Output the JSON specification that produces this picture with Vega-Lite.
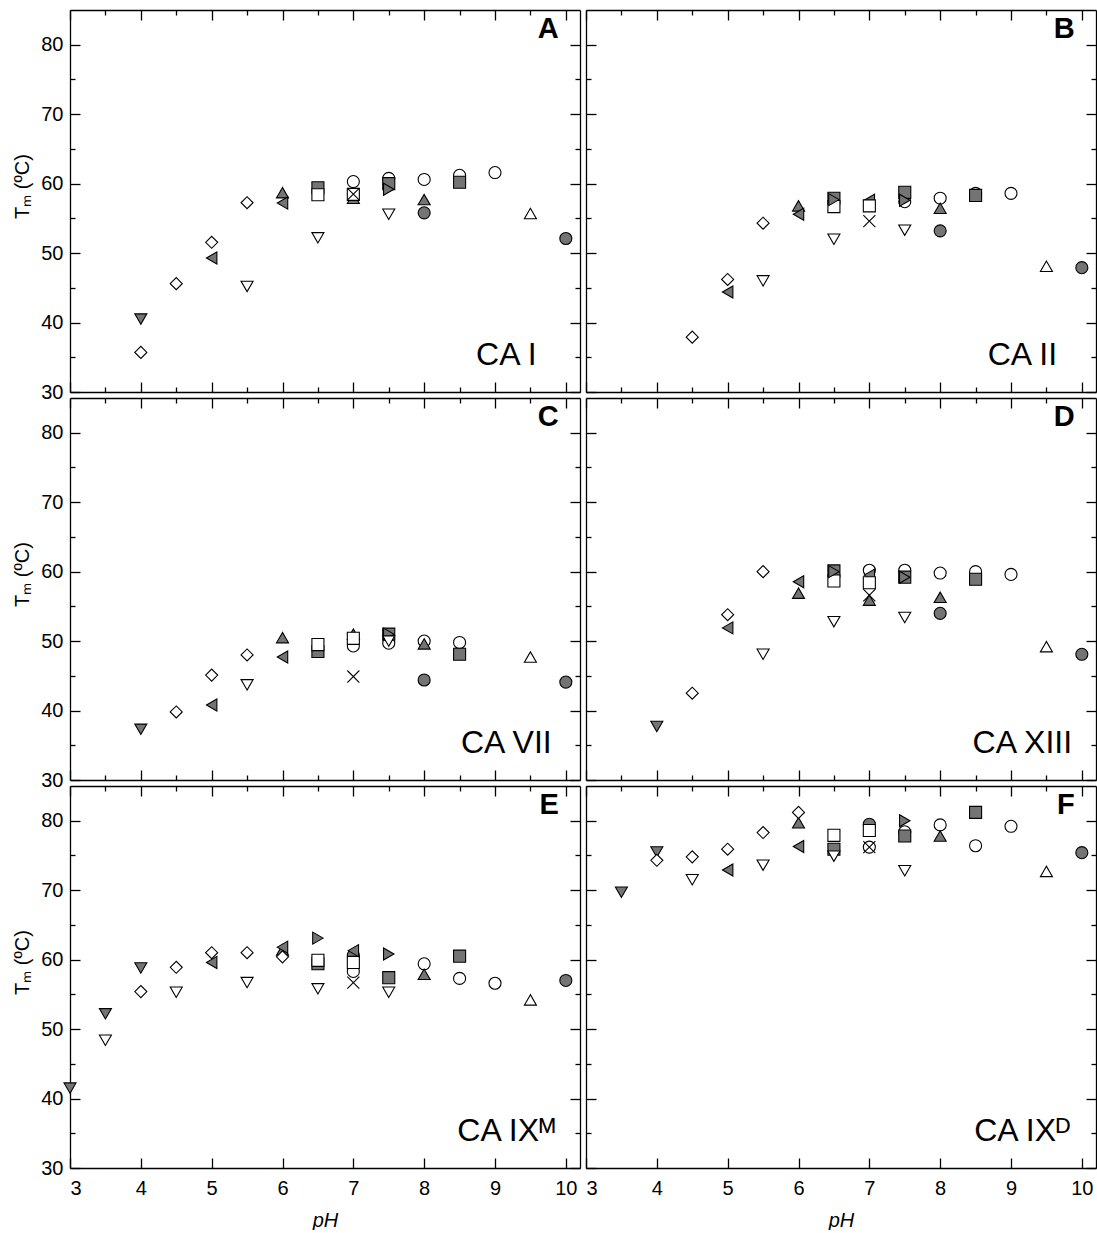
{
  "$schema": "https://vega.github.io/schema/vega-lite/v6.json",
  "background": "white",
  "padding": {"left": 12, "top": 9, "right": 0, "bottom": 0},
  "config": {
    "view": {"stroke": null},
    "font": "Liberation Sans",
    "axis": {
      "domainColor": "#000", "tickColor": "#000", "labelColor": "#000", "titleColor": "#000",
      "grid": false, "labelFont": "Liberation Sans", "titleFont": "Liberation Sans",
      "labelFontSize": 20, "titleFontSize": 20, "titleFontWeight": "normal",
      "domainWidth": 1.3, "tickWidth": 1.3
    }
  },
  "datasets": {
    "labels": [
      {"panel": "A", "letter": "A", "name": "CA I"},
      {"panel": "B", "letter": "B", "name": "CA II"},
      {"panel": "C", "letter": "C", "name": "CA VII"},
      {"panel": "D", "letter": "D", "name": "CA XIII"},
      {"panel": "E", "letter": "E", "name": "CA IXᴹ"},
      {"panel": "F", "letter": "F", "name": "CA IXᴰ"}
    ],
    "tm": [
      {"panel": "A", "series": "circle_open", "pH": 7, "Tm": 60.3},
      {"panel": "A", "series": "circle_open", "pH": 7.5, "Tm": 60.75},
      {"panel": "A", "series": "circle_open", "pH": 8, "Tm": 60.6},
      {"panel": "A", "series": "circle_open", "pH": 8.5, "Tm": 61.2},
      {"panel": "A", "series": "circle_open", "pH": 9, "Tm": 61.6},
      {"panel": "A", "series": "circle_gray", "pH": 8, "Tm": 55.8},
      {"panel": "A", "series": "circle_gray", "pH": 10, "Tm": 52.1},
      {"panel": "A", "series": "square_gray", "pH": 6.5, "Tm": 59.4},
      {"panel": "A", "series": "square_gray", "pH": 7.5, "Tm": 60.0},
      {"panel": "A", "series": "square_gray", "pH": 8.5, "Tm": 60.2},
      {"panel": "A", "series": "triup_gray", "pH": 7, "Tm": 57.9},
      {"panel": "A", "series": "square_open", "pH": 6.5, "Tm": 58.4},
      {"panel": "A", "series": "square_open", "pH": 7, "Tm": 58.45},
      {"panel": "A", "series": "triright_gray", "pH": 7.5, "Tm": 59.2},
      {"panel": "A", "series": "triup_gray", "pH": 6, "Tm": 58.7},
      {"panel": "A", "series": "triup_gray", "pH": 8, "Tm": 57.7},
      {"panel": "A", "series": "trileft_gray", "pH": 5, "Tm": 49.3},
      {"panel": "A", "series": "trileft_gray", "pH": 6, "Tm": 57.2},
      {"panel": "A", "series": "tridown_open", "pH": 5.5, "Tm": 45.2},
      {"panel": "A", "series": "tridown_open", "pH": 6.5, "Tm": 52.2},
      {"panel": "A", "series": "tridown_open", "pH": 7.5, "Tm": 55.6},
      {"panel": "A", "series": "tridown_gray", "pH": 4, "Tm": 40.5},
      {"panel": "A", "series": "diamond_open", "pH": 4, "Tm": 35.7},
      {"panel": "A", "series": "diamond_open", "pH": 4.5, "Tm": 45.6},
      {"panel": "A", "series": "diamond_open", "pH": 5, "Tm": 51.55},
      {"panel": "A", "series": "diamond_open", "pH": 5.5, "Tm": 57.25},
      {"panel": "A", "series": "triup_open", "pH": 9.5, "Tm": 55.7},
      {"panel": "A", "series": "cross", "pH": 7, "Tm": 58.5},

      {"panel": "B", "series": "circle_open", "pH": 7.5, "Tm": 57.4},
      {"panel": "B", "series": "circle_open", "pH": 8, "Tm": 57.9},
      {"panel": "B", "series": "circle_open", "pH": 8.5, "Tm": 58.6},
      {"panel": "B", "series": "circle_open", "pH": 9, "Tm": 58.6},
      {"panel": "B", "series": "circle_gray", "pH": 8, "Tm": 53.2},
      {"panel": "B", "series": "circle_gray", "pH": 10, "Tm": 47.9},
      {"panel": "B", "series": "square_gray", "pH": 6.5, "Tm": 57.9},
      {"panel": "B", "series": "square_gray", "pH": 7.5, "Tm": 58.75},
      {"panel": "B", "series": "square_gray", "pH": 8.5, "Tm": 58.3},
      {"panel": "B", "series": "trileft_gray", "pH": 7, "Tm": 57.6},
      {"panel": "B", "series": "square_open", "pH": 6.5, "Tm": 56.7},
      {"panel": "B", "series": "square_open", "pH": 7, "Tm": 56.8},
      {"panel": "B", "series": "triright_gray", "pH": 6.5, "Tm": 57.7},
      {"panel": "B", "series": "triright_gray", "pH": 7.5, "Tm": 57.6},
      {"panel": "B", "series": "triup_gray", "pH": 6, "Tm": 56.8},
      {"panel": "B", "series": "triup_gray", "pH": 8, "Tm": 56.45},
      {"panel": "B", "series": "trileft_gray", "pH": 5, "Tm": 44.4},
      {"panel": "B", "series": "trileft_gray", "pH": 6, "Tm": 55.6},
      {"panel": "B", "series": "tridown_open", "pH": 5.5, "Tm": 46.0},
      {"panel": "B", "series": "tridown_open", "pH": 6.5, "Tm": 52.0},
      {"panel": "B", "series": "tridown_open", "pH": 7.5, "Tm": 53.3},
      {"panel": "B", "series": "diamond_open", "pH": 4.5, "Tm": 37.9},
      {"panel": "B", "series": "diamond_open", "pH": 5, "Tm": 46.2},
      {"panel": "B", "series": "diamond_open", "pH": 5.5, "Tm": 54.3},
      {"panel": "B", "series": "triup_open", "pH": 9.5, "Tm": 48.1},
      {"panel": "B", "series": "cross", "pH": 7, "Tm": 54.6},

      {"panel": "C", "series": "circle_open", "pH": 7, "Tm": 49.3},
      {"panel": "C", "series": "circle_open", "pH": 7.5, "Tm": 49.7},
      {"panel": "C", "series": "circle_open", "pH": 8, "Tm": 50.0},
      {"panel": "C", "series": "circle_open", "pH": 8.5, "Tm": 49.8},
      {"panel": "C", "series": "circle_gray", "pH": 8, "Tm": 44.4},
      {"panel": "C", "series": "circle_gray", "pH": 10, "Tm": 44.1},
      {"panel": "C", "series": "triup_gray", "pH": 7, "Tm": 51.0},
      {"panel": "C", "series": "square_gray", "pH": 6.5, "Tm": 48.5},
      {"panel": "C", "series": "square_gray", "pH": 7.5, "Tm": 51.0},
      {"panel": "C", "series": "square_gray", "pH": 8.5, "Tm": 48.1},
      {"panel": "C", "series": "square_open", "pH": 6.5, "Tm": 49.5},
      {"panel": "C", "series": "square_open", "pH": 7, "Tm": 50.4},
      {"panel": "C", "series": "triright_gray", "pH": 7.5, "Tm": 51.0},
      {"panel": "C", "series": "triup_gray", "pH": 6, "Tm": 50.5},
      {"panel": "C", "series": "triup_gray", "pH": 8, "Tm": 49.6},
      {"panel": "C", "series": "trileft_gray", "pH": 5, "Tm": 40.8},
      {"panel": "C", "series": "trileft_gray", "pH": 6, "Tm": 47.7},
      {"panel": "C", "series": "tridown_open", "pH": 5.5, "Tm": 43.7},
      {"panel": "C", "series": "tridown_open", "pH": 7.5, "Tm": 50.0},
      {"panel": "C", "series": "tridown_gray", "pH": 4, "Tm": 37.3},
      {"panel": "C", "series": "diamond_open", "pH": 4.5, "Tm": 39.8},
      {"panel": "C", "series": "diamond_open", "pH": 5, "Tm": 45.1},
      {"panel": "C", "series": "diamond_open", "pH": 5.5, "Tm": 48.0},
      {"panel": "C", "series": "triup_open", "pH": 9.5, "Tm": 47.7},
      {"panel": "C", "series": "cross", "pH": 7, "Tm": 44.9},

      {"panel": "D", "series": "circle_open", "pH": 7, "Tm": 60.2},
      {"panel": "D", "series": "circle_open", "pH": 7.5, "Tm": 60.2},
      {"panel": "D", "series": "circle_open", "pH": 8, "Tm": 59.8},
      {"panel": "D", "series": "circle_open", "pH": 8.5, "Tm": 60.0},
      {"panel": "D", "series": "circle_open", "pH": 9, "Tm": 59.6},
      {"panel": "D", "series": "circle_gray", "pH": 8, "Tm": 54.0},
      {"panel": "D", "series": "circle_gray", "pH": 10, "Tm": 48.1},
      {"panel": "D", "series": "trileft_gray", "pH": 7, "Tm": 59.5},
      {"panel": "D", "series": "square_gray", "pH": 6.5, "Tm": 60.1},
      {"panel": "D", "series": "square_gray", "pH": 7.5, "Tm": 59.2},
      {"panel": "D", "series": "square_gray", "pH": 8.5, "Tm": 58.9},
      {"panel": "D", "series": "square_open", "pH": 6.5, "Tm": 58.65},
      {"panel": "D", "series": "square_open", "pH": 7, "Tm": 58.4},
      {"panel": "D", "series": "triright_gray", "pH": 6.5, "Tm": 60.0},
      {"panel": "D", "series": "triright_gray", "pH": 7.5, "Tm": 59.2},
      {"panel": "D", "series": "triup_gray", "pH": 6, "Tm": 56.9},
      {"panel": "D", "series": "triup_gray", "pH": 7, "Tm": 55.9},
      {"panel": "D", "series": "triup_gray", "pH": 8, "Tm": 56.3},
      {"panel": "D", "series": "trileft_gray", "pH": 5, "Tm": 51.9},
      {"panel": "D", "series": "trileft_gray", "pH": 6, "Tm": 58.55},
      {"panel": "D", "series": "tridown_open", "pH": 5.5, "Tm": 48.1},
      {"panel": "D", "series": "tridown_open", "pH": 6.5, "Tm": 52.8},
      {"panel": "D", "series": "tridown_open", "pH": 7.5, "Tm": 53.4},
      {"panel": "D", "series": "tridown_gray", "pH": 4, "Tm": 37.7},
      {"panel": "D", "series": "diamond_open", "pH": 4.5, "Tm": 42.5},
      {"panel": "D", "series": "diamond_open", "pH": 5, "Tm": 53.8},
      {"panel": "D", "series": "diamond_open", "pH": 5.5, "Tm": 60.0},
      {"panel": "D", "series": "triup_open", "pH": 9.5, "Tm": 49.2},
      {"panel": "D", "series": "cross", "pH": 7, "Tm": 56.6},

      {"panel": "E", "series": "circle_open", "pH": 7, "Tm": 58.3},
      {"panel": "E", "series": "circle_open", "pH": 8, "Tm": 59.4},
      {"panel": "E", "series": "circle_open", "pH": 8.5, "Tm": 57.3},
      {"panel": "E", "series": "circle_open", "pH": 9, "Tm": 56.6},
      {"panel": "E", "series": "circle_gray", "pH": 7, "Tm": 60.6},
      {"panel": "E", "series": "circle_gray", "pH": 10, "Tm": 57.0},
      {"panel": "E", "series": "square_gray", "pH": 6.5, "Tm": 59.4},
      {"panel": "E", "series": "square_gray", "pH": 7.5, "Tm": 57.4},
      {"panel": "E", "series": "square_gray", "pH": 8.5, "Tm": 60.5},
      {"panel": "E", "series": "square_open", "pH": 6.5, "Tm": 59.9},
      {"panel": "E", "series": "square_open", "pH": 7, "Tm": 59.6},
      {"panel": "E", "series": "triright_gray", "pH": 6.5, "Tm": 63.1},
      {"panel": "E", "series": "triright_gray", "pH": 7.5, "Tm": 60.8},
      {"panel": "E", "series": "triup_gray", "pH": 6, "Tm": 61.4},
      {"panel": "E", "series": "triup_gray", "pH": 8, "Tm": 57.9},
      {"panel": "E", "series": "trileft_gray", "pH": 5, "Tm": 59.6},
      {"panel": "E", "series": "trileft_gray", "pH": 6, "Tm": 61.8},
      {"panel": "E", "series": "trileft_gray", "pH": 7, "Tm": 61.3},
      {"panel": "E", "series": "tridown_open", "pH": 3.5, "Tm": 48.4},
      {"panel": "E", "series": "tridown_open", "pH": 4.5, "Tm": 55.3},
      {"panel": "E", "series": "tridown_open", "pH": 5.5, "Tm": 56.7},
      {"panel": "E", "series": "tridown_open", "pH": 6.5, "Tm": 55.8},
      {"panel": "E", "series": "tridown_open", "pH": 7.5, "Tm": 55.3},
      {"panel": "E", "series": "tridown_gray", "pH": 3, "Tm": 41.5},
      {"panel": "E", "series": "tridown_gray", "pH": 3.5, "Tm": 52.2},
      {"panel": "E", "series": "tridown_gray", "pH": 4, "Tm": 58.8},
      {"panel": "E", "series": "diamond_open", "pH": 4, "Tm": 55.4},
      {"panel": "E", "series": "diamond_open", "pH": 4.5, "Tm": 58.9},
      {"panel": "E", "series": "diamond_open", "pH": 5, "Tm": 61.0},
      {"panel": "E", "series": "diamond_open", "pH": 5.5, "Tm": 61.0},
      {"panel": "E", "series": "diamond_open", "pH": 6, "Tm": 60.4},
      {"panel": "E", "series": "triup_open", "pH": 9.5, "Tm": 54.2},
      {"panel": "E", "series": "cross", "pH": 7, "Tm": 56.7},

      {"panel": "F", "series": "circle_open", "pH": 7, "Tm": 76.2},
      {"panel": "F", "series": "circle_open", "pH": 7.5, "Tm": 78.4},
      {"panel": "F", "series": "circle_open", "pH": 8, "Tm": 79.4},
      {"panel": "F", "series": "circle_open", "pH": 8.5, "Tm": 76.4},
      {"panel": "F", "series": "circle_open", "pH": 9, "Tm": 79.2},
      {"panel": "F", "series": "circle_gray", "pH": 7, "Tm": 79.5},
      {"panel": "F", "series": "circle_gray", "pH": 10, "Tm": 75.4},
      {"panel": "F", "series": "square_gray", "pH": 6.5, "Tm": 75.9},
      {"panel": "F", "series": "square_gray", "pH": 7.5, "Tm": 77.8},
      {"panel": "F", "series": "square_gray", "pH": 8.5, "Tm": 81.2},
      {"panel": "F", "series": "square_open", "pH": 6.5, "Tm": 77.9},
      {"panel": "F", "series": "square_open", "pH": 7, "Tm": 78.6},
      {"panel": "F", "series": "triright_gray", "pH": 7.5, "Tm": 80.0},
      {"panel": "F", "series": "triup_gray", "pH": 6, "Tm": 79.7},
      {"panel": "F", "series": "triup_gray", "pH": 8, "Tm": 77.8},
      {"panel": "F", "series": "trileft_gray", "pH": 5, "Tm": 72.9},
      {"panel": "F", "series": "trileft_gray", "pH": 6, "Tm": 76.3},
      {"panel": "F", "series": "tridown_open", "pH": 4.5, "Tm": 71.5},
      {"panel": "F", "series": "tridown_open", "pH": 5.5, "Tm": 73.6},
      {"panel": "F", "series": "tridown_open", "pH": 6.5, "Tm": 74.9},
      {"panel": "F", "series": "tridown_open", "pH": 7.5, "Tm": 72.8},
      {"panel": "F", "series": "tridown_gray", "pH": 3.5, "Tm": 69.7},
      {"panel": "F", "series": "tridown_gray", "pH": 4, "Tm": 75.5},
      {"panel": "F", "series": "diamond_open", "pH": 4, "Tm": 74.3},
      {"panel": "F", "series": "diamond_open", "pH": 4.5, "Tm": 74.8},
      {"panel": "F", "series": "diamond_open", "pH": 5, "Tm": 75.9},
      {"panel": "F", "series": "diamond_open", "pH": 5.5, "Tm": 78.3},
      {"panel": "F", "series": "diamond_open", "pH": 6, "Tm": 81.2},
      {"panel": "F", "series": "triup_open", "pH": 9.5, "Tm": 72.7},
      {"panel": "F", "series": "cross", "pH": 7, "Tm": 76.2}
    ]
  },
  "columns": 2,
  "spacing": 6,
  "bounds": "flush",
  "concat": [
        {
          "width": 510, "height": 382,
          "resolve": {"scale": {"x": "independent", "y": "independent"}},
          "layer": [
            {
              "data": {"name": "tm"}, "transform": [{"filter": "datum.panel === 'A'"}],
              "mark": {"type": "point", "filled": true, "stroke": "black", "strokeWidth": 1.1, "opacity": 1},
              "encoding": {
                "x": {"field": "pH", "type": "quantitative", "scale": {"domain": [3, 10.2], "nice": false, "zero": false},
                  "axis": {"orient": "bottom", "values": [3,3.5,4,4.5,5,5.5,6,6.5,7,7.5,8,8.5,9,9.5,10], "labels": false, "title": null, "tickSize": {"condition": {"test": "datum.value % 1 !== 0", "value": -5}, "value": -10}}},
                "y": {"field": "Tm", "type": "quantitative", "scale": {"domain": [30, 85], "nice": false, "zero": false},
                  "axis": {"orient": "left", "values": [30,35,40,45,50,55,60,65,70,75,80], "format": "d", "labelExpr": "datum.value % 10 ? '' : datum.label", "labelPadding": 17, "title": "Tₘ (ºC)", "titlePadding": 8, "titleY": 176, "tickSize": {"condition": {"test": "datum.value % 10 !== 0", "value": -5}, "value": -10}}},
                "shape": {"field": "series", "type": "nominal", "legend": null, "scale": {"domain": ["circle_open","circle_gray","square_gray","square_open","triright_gray","triup_gray","trileft_gray","tridown_open","tridown_gray","diamond_open","triup_open","cross"], "range": ["circle","circle","square","square","triangle-right","triangle-up","triangle-left","triangle-down","triangle-down","diamond","triangle-up","M-1,-1L1,1M-1,1L1,-1"]}},
                "fill": {"field": "series", "type": "nominal", "legend": null, "scale": {"domain": ["circle_open","circle_gray","square_gray","square_open","triright_gray","triup_gray","trileft_gray","tridown_open","tridown_gray","diamond_open","triup_open","cross"], "range": ["white","#747474","#747474","white","#747474","#747474","#747474","white","#747474","white","white","white"]}},
                "size": {"field": "series", "type": "nominal", "legend": null, "scale": {"domain": ["circle_open","circle_gray","square_gray","square_open","triright_gray","triup_gray","trileft_gray","tridown_open","tridown_gray","diamond_open","triup_open","cross"], "range": [145,145,135,135,150,150,150,150,150,190,150,100]}}
              }
            },
            {
              "data": {"name": "labels"}, "transform": [{"filter": "datum.panel === 'A'"}],
              "mark": {"type": "text", "align": "right", "baseline": "alphabetic", "fontSize": 29, "fontWeight": "bold", "font": "Liberation Sans", "color": "black"},
              "encoding": {
                "x": {"datum": 9.9, "type": "quantitative", "scale": {"domain": [3, 10.2], "nice": false, "zero": false},
                  "axis": {"orient": "top", "values": [3,3.5,4,4.5,5,5.5,6,6.5,7,7.5,8,8.5,9,9.5,10], "labels": false, "title": null, "tickSize": {"condition": {"test": "datum.value % 1 !== 0", "value": -5}, "value": -10}}},
                "y": {"datum": 81, "type": "quantitative", "scale": {"domain": [30, 85], "nice": false, "zero": false},
                  "axis": {"orient": "right", "values": [30,35,40,45,50,55,60,65,70,75,80], "labels": false, "title": null, "tickSize": {"condition": {"test": "datum.value % 10 !== 0", "value": -5}, "value": -10}}},
                "text": {"field": "letter"}
              }
            },
            {
              "data": {"name": "labels"}, "transform": [{"filter": "datum.panel === 'A'"}],
              "mark": {"type": "text", "align": "center", "baseline": "alphabetic", "fontSize": 32, "font": "Liberation Sans", "color": "black"},
              "encoding": {
                "x": {"datum": 9.16, "type": "quantitative", "scale": {"domain": [3, 10.2], "nice": false, "zero": false}, "axis": null},
                "y": {"datum": 33.9, "type": "quantitative", "scale": {"domain": [30, 85], "nice": false, "zero": false}, "axis": null},
                "text": {"field": "name"}
              }
            }
          ]
        },
        {
          "width": 510, "height": 382,
          "resolve": {"scale": {"x": "independent", "y": "independent"}},
          "layer": [
            {
              "data": {"name": "tm"}, "transform": [{"filter": "datum.panel === 'B'"}],
              "mark": {"type": "point", "filled": true, "stroke": "black", "strokeWidth": 1.1, "opacity": 1},
              "encoding": {
                "x": {"field": "pH", "type": "quantitative", "scale": {"domain": [3, 10.2], "nice": false, "zero": false},
                  "axis": {"orient": "bottom", "values": [3,3.5,4,4.5,5,5.5,6,6.5,7,7.5,8,8.5,9,9.5,10], "labels": false, "title": null, "tickSize": {"condition": {"test": "datum.value % 1 !== 0", "value": -5}, "value": -10}}},
                "y": {"field": "Tm", "type": "quantitative", "scale": {"domain": [30, 85], "nice": false, "zero": false},
                  "axis": {"orient": "left", "values": [30,35,40,45,50,55,60,65,70,75,80], "labels": false, "title": null, "tickSize": {"condition": {"test": "datum.value % 10 !== 0", "value": -5}, "value": -10}}},
                "shape": {"field": "series", "type": "nominal", "legend": null, "scale": {"domain": ["circle_open","circle_gray","square_gray","square_open","triright_gray","triup_gray","trileft_gray","tridown_open","tridown_gray","diamond_open","triup_open","cross"], "range": ["circle","circle","square","square","triangle-right","triangle-up","triangle-left","triangle-down","triangle-down","diamond","triangle-up","M-1,-1L1,1M-1,1L1,-1"]}},
                "fill": {"field": "series", "type": "nominal", "legend": null, "scale": {"domain": ["circle_open","circle_gray","square_gray","square_open","triright_gray","triup_gray","trileft_gray","tridown_open","tridown_gray","diamond_open","triup_open","cross"], "range": ["white","#747474","#747474","white","#747474","#747474","#747474","white","#747474","white","white","white"]}},
                "size": {"field": "series", "type": "nominal", "legend": null, "scale": {"domain": ["circle_open","circle_gray","square_gray","square_open","triright_gray","triup_gray","trileft_gray","tridown_open","tridown_gray","diamond_open","triup_open","cross"], "range": [145,145,135,135,150,150,150,150,150,190,150,100]}}
              }
            },
            {
              "data": {"name": "labels"}, "transform": [{"filter": "datum.panel === 'B'"}],
              "mark": {"type": "text", "align": "right", "baseline": "alphabetic", "fontSize": 29, "fontWeight": "bold", "font": "Liberation Sans", "color": "black"},
              "encoding": {
                "x": {"datum": 9.9, "type": "quantitative", "scale": {"domain": [3, 10.2], "nice": false, "zero": false},
                  "axis": {"orient": "top", "values": [3,3.5,4,4.5,5,5.5,6,6.5,7,7.5,8,8.5,9,9.5,10], "labels": false, "title": null, "tickSize": {"condition": {"test": "datum.value % 1 !== 0", "value": -5}, "value": -10}}},
                "y": {"datum": 81, "type": "quantitative", "scale": {"domain": [30, 85], "nice": false, "zero": false},
                  "axis": {"orient": "right", "values": [30,35,40,45,50,55,60,65,70,75,80], "labels": false, "title": null, "tickSize": {"condition": {"test": "datum.value % 10 !== 0", "value": -5}, "value": -10}}},
                "text": {"field": "letter"}
              }
            },
            {
              "data": {"name": "labels"}, "transform": [{"filter": "datum.panel === 'B'"}],
              "mark": {"type": "text", "align": "center", "baseline": "alphabetic", "fontSize": 32, "font": "Liberation Sans", "color": "black"},
              "encoding": {
                "x": {"datum": 9.16, "type": "quantitative", "scale": {"domain": [3, 10.2], "nice": false, "zero": false}, "axis": null},
                "y": {"datum": 33.9, "type": "quantitative", "scale": {"domain": [30, 85], "nice": false, "zero": false}, "axis": null},
                "text": {"field": "name"}
              }
            }
          ]
        },
        {
          "width": 510, "height": 382,
          "resolve": {"scale": {"x": "independent", "y": "independent"}},
          "layer": [
            {
              "data": {"name": "tm"}, "transform": [{"filter": "datum.panel === 'C'"}],
              "mark": {"type": "point", "filled": true, "stroke": "black", "strokeWidth": 1.1, "opacity": 1},
              "encoding": {
                "x": {"field": "pH", "type": "quantitative", "scale": {"domain": [3, 10.2], "nice": false, "zero": false},
                  "axis": {"orient": "bottom", "values": [3,3.5,4,4.5,5,5.5,6,6.5,7,7.5,8,8.5,9,9.5,10], "labels": false, "title": null, "tickSize": {"condition": {"test": "datum.value % 1 !== 0", "value": -5}, "value": -10}}},
                "y": {"field": "Tm", "type": "quantitative", "scale": {"domain": [30, 85], "nice": false, "zero": false},
                  "axis": {"orient": "left", "values": [30,35,40,45,50,55,60,65,70,75,80], "format": "d", "labelExpr": "datum.value % 10 ? '' : datum.label", "labelPadding": 17, "title": "Tₘ (ºC)", "titlePadding": 8, "titleY": 176, "tickSize": {"condition": {"test": "datum.value % 10 !== 0", "value": -5}, "value": -10}}},
                "shape": {"field": "series", "type": "nominal", "legend": null, "scale": {"domain": ["circle_open","circle_gray","square_gray","square_open","triright_gray","triup_gray","trileft_gray","tridown_open","tridown_gray","diamond_open","triup_open","cross"], "range": ["circle","circle","square","square","triangle-right","triangle-up","triangle-left","triangle-down","triangle-down","diamond","triangle-up","M-1,-1L1,1M-1,1L1,-1"]}},
                "fill": {"field": "series", "type": "nominal", "legend": null, "scale": {"domain": ["circle_open","circle_gray","square_gray","square_open","triright_gray","triup_gray","trileft_gray","tridown_open","tridown_gray","diamond_open","triup_open","cross"], "range": ["white","#747474","#747474","white","#747474","#747474","#747474","white","#747474","white","white","white"]}},
                "size": {"field": "series", "type": "nominal", "legend": null, "scale": {"domain": ["circle_open","circle_gray","square_gray","square_open","triright_gray","triup_gray","trileft_gray","tridown_open","tridown_gray","diamond_open","triup_open","cross"], "range": [145,145,135,135,150,150,150,150,150,190,150,100]}}
              }
            },
            {
              "data": {"name": "labels"}, "transform": [{"filter": "datum.panel === 'C'"}],
              "mark": {"type": "text", "align": "right", "baseline": "alphabetic", "fontSize": 29, "fontWeight": "bold", "font": "Liberation Sans", "color": "black"},
              "encoding": {
                "x": {"datum": 9.9, "type": "quantitative", "scale": {"domain": [3, 10.2], "nice": false, "zero": false},
                  "axis": {"orient": "top", "values": [3,3.5,4,4.5,5,5.5,6,6.5,7,7.5,8,8.5,9,9.5,10], "labels": false, "title": null, "tickSize": {"condition": {"test": "datum.value % 1 !== 0", "value": -5}, "value": -10}}},
                "y": {"datum": 81, "type": "quantitative", "scale": {"domain": [30, 85], "nice": false, "zero": false},
                  "axis": {"orient": "right", "values": [30,35,40,45,50,55,60,65,70,75,80], "labels": false, "title": null, "tickSize": {"condition": {"test": "datum.value % 10 !== 0", "value": -5}, "value": -10}}},
                "text": {"field": "letter"}
              }
            },
            {
              "data": {"name": "labels"}, "transform": [{"filter": "datum.panel === 'C'"}],
              "mark": {"type": "text", "align": "center", "baseline": "alphabetic", "fontSize": 32, "font": "Liberation Sans", "color": "black"},
              "encoding": {
                "x": {"datum": 9.16, "type": "quantitative", "scale": {"domain": [3, 10.2], "nice": false, "zero": false}, "axis": null},
                "y": {"datum": 33.9, "type": "quantitative", "scale": {"domain": [30, 85], "nice": false, "zero": false}, "axis": null},
                "text": {"field": "name"}
              }
            }
          ]
        },
        {
          "width": 510, "height": 382,
          "resolve": {"scale": {"x": "independent", "y": "independent"}},
          "layer": [
            {
              "data": {"name": "tm"}, "transform": [{"filter": "datum.panel === 'D'"}],
              "mark": {"type": "point", "filled": true, "stroke": "black", "strokeWidth": 1.1, "opacity": 1},
              "encoding": {
                "x": {"field": "pH", "type": "quantitative", "scale": {"domain": [3, 10.2], "nice": false, "zero": false},
                  "axis": {"orient": "bottom", "values": [3,3.5,4,4.5,5,5.5,6,6.5,7,7.5,8,8.5,9,9.5,10], "labels": false, "title": null, "tickSize": {"condition": {"test": "datum.value % 1 !== 0", "value": -5}, "value": -10}}},
                "y": {"field": "Tm", "type": "quantitative", "scale": {"domain": [30, 85], "nice": false, "zero": false},
                  "axis": {"orient": "left", "values": [30,35,40,45,50,55,60,65,70,75,80], "labels": false, "title": null, "tickSize": {"condition": {"test": "datum.value % 10 !== 0", "value": -5}, "value": -10}}},
                "shape": {"field": "series", "type": "nominal", "legend": null, "scale": {"domain": ["circle_open","circle_gray","square_gray","square_open","triright_gray","triup_gray","trileft_gray","tridown_open","tridown_gray","diamond_open","triup_open","cross"], "range": ["circle","circle","square","square","triangle-right","triangle-up","triangle-left","triangle-down","triangle-down","diamond","triangle-up","M-1,-1L1,1M-1,1L1,-1"]}},
                "fill": {"field": "series", "type": "nominal", "legend": null, "scale": {"domain": ["circle_open","circle_gray","square_gray","square_open","triright_gray","triup_gray","trileft_gray","tridown_open","tridown_gray","diamond_open","triup_open","cross"], "range": ["white","#747474","#747474","white","#747474","#747474","#747474","white","#747474","white","white","white"]}},
                "size": {"field": "series", "type": "nominal", "legend": null, "scale": {"domain": ["circle_open","circle_gray","square_gray","square_open","triright_gray","triup_gray","trileft_gray","tridown_open","tridown_gray","diamond_open","triup_open","cross"], "range": [145,145,135,135,150,150,150,150,150,190,150,100]}}
              }
            },
            {
              "data": {"name": "labels"}, "transform": [{"filter": "datum.panel === 'D'"}],
              "mark": {"type": "text", "align": "right", "baseline": "alphabetic", "fontSize": 29, "fontWeight": "bold", "font": "Liberation Sans", "color": "black"},
              "encoding": {
                "x": {"datum": 9.9, "type": "quantitative", "scale": {"domain": [3, 10.2], "nice": false, "zero": false},
                  "axis": {"orient": "top", "values": [3,3.5,4,4.5,5,5.5,6,6.5,7,7.5,8,8.5,9,9.5,10], "labels": false, "title": null, "tickSize": {"condition": {"test": "datum.value % 1 !== 0", "value": -5}, "value": -10}}},
                "y": {"datum": 81, "type": "quantitative", "scale": {"domain": [30, 85], "nice": false, "zero": false},
                  "axis": {"orient": "right", "values": [30,35,40,45,50,55,60,65,70,75,80], "labels": false, "title": null, "tickSize": {"condition": {"test": "datum.value % 10 !== 0", "value": -5}, "value": -10}}},
                "text": {"field": "letter"}
              }
            },
            {
              "data": {"name": "labels"}, "transform": [{"filter": "datum.panel === 'D'"}],
              "mark": {"type": "text", "align": "center", "baseline": "alphabetic", "fontSize": 32, "font": "Liberation Sans", "color": "black"},
              "encoding": {
                "x": {"datum": 9.16, "type": "quantitative", "scale": {"domain": [3, 10.2], "nice": false, "zero": false}, "axis": null},
                "y": {"datum": 33.9, "type": "quantitative", "scale": {"domain": [30, 85], "nice": false, "zero": false}, "axis": null},
                "text": {"field": "name"}
              }
            }
          ]
        },
        {
          "width": 510, "height": 382,
          "resolve": {"scale": {"x": "independent", "y": "independent"}},
          "layer": [
            {
              "data": {"name": "tm"}, "transform": [{"filter": "datum.panel === 'E'"}],
              "mark": {"type": "point", "filled": true, "stroke": "black", "strokeWidth": 1.1, "opacity": 1},
              "encoding": {
                "x": {"field": "pH", "type": "quantitative", "scale": {"domain": [3, 10.2], "nice": false, "zero": false},
                  "axis": {"orient": "bottom", "values": [3,3.5,4,4.5,5,5.5,6,6.5,7,7.5,8,8.5,9,9.5,10], "format": "d", "labelExpr": "datum.value % 1 ? '' : datum.label", "labelPadding": 20, "title": "pH", "titleFontStyle": "italic", "titlePadding": 12, "tickSize": {"condition": {"test": "datum.value % 1 !== 0", "value": -5}, "value": -10}}},
                "y": {"field": "Tm", "type": "quantitative", "scale": {"domain": [30, 85], "nice": false, "zero": false},
                  "axis": {"orient": "left", "values": [30,35,40,45,50,55,60,65,70,75,80], "format": "d", "labelExpr": "datum.value % 10 ? '' : datum.label", "labelPadding": 17, "title": "Tₘ (ºC)", "titlePadding": 8, "titleY": 176, "tickSize": {"condition": {"test": "datum.value % 10 !== 0", "value": -5}, "value": -10}}},
                "shape": {"field": "series", "type": "nominal", "legend": null, "scale": {"domain": ["circle_open","circle_gray","square_gray","square_open","triright_gray","triup_gray","trileft_gray","tridown_open","tridown_gray","diamond_open","triup_open","cross"], "range": ["circle","circle","square","square","triangle-right","triangle-up","triangle-left","triangle-down","triangle-down","diamond","triangle-up","M-1,-1L1,1M-1,1L1,-1"]}},
                "fill": {"field": "series", "type": "nominal", "legend": null, "scale": {"domain": ["circle_open","circle_gray","square_gray","square_open","triright_gray","triup_gray","trileft_gray","tridown_open","tridown_gray","diamond_open","triup_open","cross"], "range": ["white","#747474","#747474","white","#747474","#747474","#747474","white","#747474","white","white","white"]}},
                "size": {"field": "series", "type": "nominal", "legend": null, "scale": {"domain": ["circle_open","circle_gray","square_gray","square_open","triright_gray","triup_gray","trileft_gray","tridown_open","tridown_gray","diamond_open","triup_open","cross"], "range": [145,145,135,135,150,150,150,150,150,190,150,100]}}
              }
            },
            {
              "data": {"name": "labels"}, "transform": [{"filter": "datum.panel === 'E'"}],
              "mark": {"type": "text", "align": "right", "baseline": "alphabetic", "fontSize": 29, "fontWeight": "bold", "font": "Liberation Sans", "color": "black"},
              "encoding": {
                "x": {"datum": 9.9, "type": "quantitative", "scale": {"domain": [3, 10.2], "nice": false, "zero": false},
                  "axis": {"orient": "top", "values": [3,3.5,4,4.5,5,5.5,6,6.5,7,7.5,8,8.5,9,9.5,10], "labels": false, "title": null, "tickSize": {"condition": {"test": "datum.value % 1 !== 0", "value": -5}, "value": -10}}},
                "y": {"datum": 81, "type": "quantitative", "scale": {"domain": [30, 85], "nice": false, "zero": false},
                  "axis": {"orient": "right", "values": [30,35,40,45,50,55,60,65,70,75,80], "labels": false, "title": null, "tickSize": {"condition": {"test": "datum.value % 10 !== 0", "value": -5}, "value": -10}}},
                "text": {"field": "letter"}
              }
            },
            {
              "data": {"name": "labels"}, "transform": [{"filter": "datum.panel === 'E'"}],
              "mark": {"type": "text", "align": "center", "baseline": "alphabetic", "fontSize": 32, "font": "Liberation Sans", "color": "black"},
              "encoding": {
                "x": {"datum": 9.16, "type": "quantitative", "scale": {"domain": [3, 10.2], "nice": false, "zero": false}, "axis": null},
                "y": {"datum": 33.9, "type": "quantitative", "scale": {"domain": [30, 85], "nice": false, "zero": false}, "axis": null},
                "text": {"field": "name"}
              }
            }
          ]
        },
        {
          "width": 510, "height": 382,
          "resolve": {"scale": {"x": "independent", "y": "independent"}},
          "layer": [
            {
              "data": {"name": "tm"}, "transform": [{"filter": "datum.panel === 'F'"}],
              "mark": {"type": "point", "filled": true, "stroke": "black", "strokeWidth": 1.1, "opacity": 1},
              "encoding": {
                "x": {"field": "pH", "type": "quantitative", "scale": {"domain": [3, 10.2], "nice": false, "zero": false},
                  "axis": {"orient": "bottom", "values": [3,3.5,4,4.5,5,5.5,6,6.5,7,7.5,8,8.5,9,9.5,10], "format": "d", "labelExpr": "datum.value % 1 ? '' : datum.label", "labelPadding": 20, "title": "pH", "titleFontStyle": "italic", "titlePadding": 12, "tickSize": {"condition": {"test": "datum.value % 1 !== 0", "value": -5}, "value": -10}}},
                "y": {"field": "Tm", "type": "quantitative", "scale": {"domain": [30, 85], "nice": false, "zero": false},
                  "axis": {"orient": "left", "values": [30,35,40,45,50,55,60,65,70,75,80], "labels": false, "title": null, "tickSize": {"condition": {"test": "datum.value % 10 !== 0", "value": -5}, "value": -10}}},
                "shape": {"field": "series", "type": "nominal", "legend": null, "scale": {"domain": ["circle_open","circle_gray","square_gray","square_open","triright_gray","triup_gray","trileft_gray","tridown_open","tridown_gray","diamond_open","triup_open","cross"], "range": ["circle","circle","square","square","triangle-right","triangle-up","triangle-left","triangle-down","triangle-down","diamond","triangle-up","M-1,-1L1,1M-1,1L1,-1"]}},
                "fill": {"field": "series", "type": "nominal", "legend": null, "scale": {"domain": ["circle_open","circle_gray","square_gray","square_open","triright_gray","triup_gray","trileft_gray","tridown_open","tridown_gray","diamond_open","triup_open","cross"], "range": ["white","#747474","#747474","white","#747474","#747474","#747474","white","#747474","white","white","white"]}},
                "size": {"field": "series", "type": "nominal", "legend": null, "scale": {"domain": ["circle_open","circle_gray","square_gray","square_open","triright_gray","triup_gray","trileft_gray","tridown_open","tridown_gray","diamond_open","triup_open","cross"], "range": [145,145,135,135,150,150,150,150,150,190,150,100]}}
              }
            },
            {
              "data": {"name": "labels"}, "transform": [{"filter": "datum.panel === 'F'"}],
              "mark": {"type": "text", "align": "right", "baseline": "alphabetic", "fontSize": 29, "fontWeight": "bold", "font": "Liberation Sans", "color": "black"},
              "encoding": {
                "x": {"datum": 9.9, "type": "quantitative", "scale": {"domain": [3, 10.2], "nice": false, "zero": false},
                  "axis": {"orient": "top", "values": [3,3.5,4,4.5,5,5.5,6,6.5,7,7.5,8,8.5,9,9.5,10], "labels": false, "title": null, "tickSize": {"condition": {"test": "datum.value % 1 !== 0", "value": -5}, "value": -10}}},
                "y": {"datum": 81, "type": "quantitative", "scale": {"domain": [30, 85], "nice": false, "zero": false},
                  "axis": {"orient": "right", "values": [30,35,40,45,50,55,60,65,70,75,80], "labels": false, "title": null, "tickSize": {"condition": {"test": "datum.value % 10 !== 0", "value": -5}, "value": -10}}},
                "text": {"field": "letter"}
              }
            },
            {
              "data": {"name": "labels"}, "transform": [{"filter": "datum.panel === 'F'"}],
              "mark": {"type": "text", "align": "center", "baseline": "alphabetic", "fontSize": 32, "font": "Liberation Sans", "color": "black"},
              "encoding": {
                "x": {"datum": 9.16, "type": "quantitative", "scale": {"domain": [3, 10.2], "nice": false, "zero": false}, "axis": null},
                "y": {"datum": 33.9, "type": "quantitative", "scale": {"domain": [30, 85], "nice": false, "zero": false}, "axis": null},
                "text": {"field": "name"}
              }
            }
          ]
        }
  ]
}
